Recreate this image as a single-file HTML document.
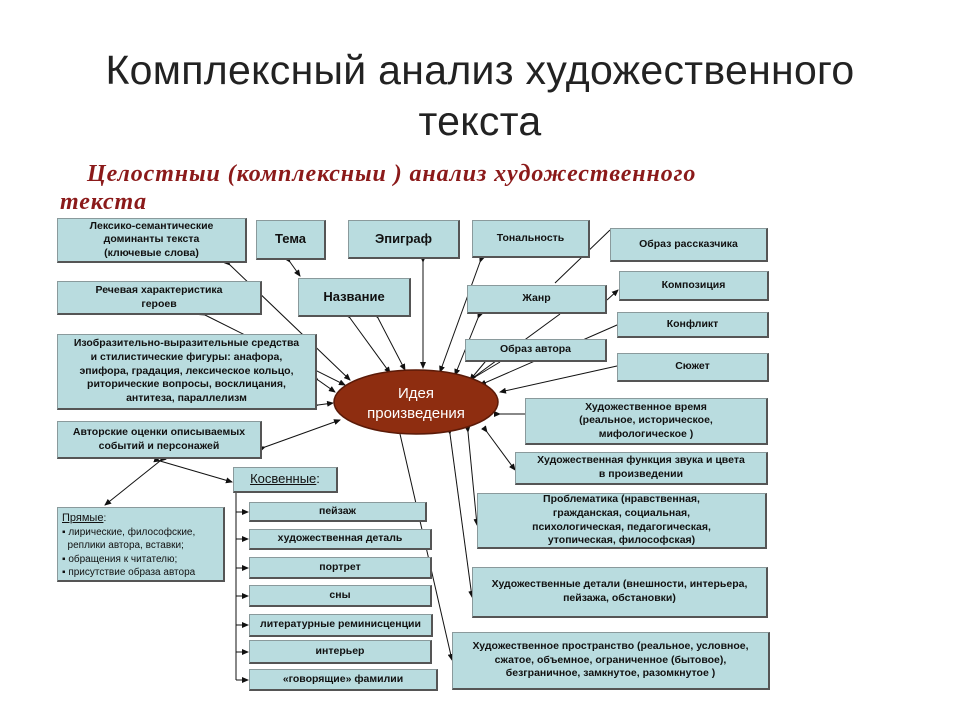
<!DOCTYPE html>
<html><head><meta charset="utf-8"><style>
body{margin:0;width:960px;height:720px;background:#fff;position:relative;overflow:hidden;font-family:"Liberation Sans",sans-serif}
.t{position:absolute;left:0;width:960px;text-align:center;font-size:41px;color:#222;letter-spacing:0.3px}
.b{position:absolute;box-sizing:border-box;background:#b9dcdf;border:1px solid #8a9a9c;border-right:2px solid #555;border-bottom:2px solid #555;font-size:10.5px;color:#111;display:flex;align-items:center;justify-content:center;text-align:center;line-height:1.3;font-weight:bold}
.big{font-size:13px}
.sub{position:absolute;font:italic bold 24px 'Liberation Serif',serif;color:#8b1a1a;letter-spacing:0.9px}
svg{position:absolute;left:0;top:0}
</style></head><body>
<div class="t" style="top:47px">Комплексный анализ художественного</div>
<div class="t" style="top:98px">текста</div>
<div class="sub" style="left:87px;top:161px">Целостныи (комплексныи ) анализ художественного</div>
<div class="sub" style="left:60px;top:189px">текста</div>
<svg width="960" height="720">
<defs><marker id="a" markerWidth="7" markerHeight="6" refX="6" refY="3" orient="auto"><path d="M0,0L7,3L0,6z" fill="#111"/></marker></defs>
<g stroke="#111" stroke-width="1" marker-end="url(#a)" marker-start="url(#a)" fill="none">
<line x1="230" y1="265" x2="350" y2="380"/>
<line x1="290" y1="262" x2="300" y2="276"/>
<line x1="350" y1="318" x2="390" y2="373"/>
<line x1="378" y1="318" x2="405" y2="370"/>
<line x1="423" y1="262" x2="423" y2="368"/>
<line x1="205" y1="315" x2="345" y2="385"/>
<line x1="318" y1="380" x2="335" y2="392"/>
<line x1="318" y1="405" x2="333" y2="403"/>
<line x1="265" y1="447" x2="340" y2="420"/>
<line x1="480" y1="262" x2="440" y2="372"/>
<line x1="478" y1="318" x2="455" y2="375"/>
<line x1="485" y1="362" x2="470" y2="380"/>
<line x1="617" y1="325" x2="480" y2="385"/>
<line x1="617" y1="366" x2="500" y2="392"/>
<line x1="500" y1="414" x2="537" y2="414"/>
<line x1="487" y1="432" x2="515" y2="470"/>
<line x1="468" y1="432" x2="477" y2="525"/>
<line x1="450" y1="434" x2="472" y2="597"/>
<line x1="400" y1="434" x2="452" y2="660"/>
<line x1="160" y1="461" x2="105" y2="505"/>
<line x1="160" y1="461" x2="232" y2="482"/>
</g>
<g stroke="#111" stroke-width="1" fill="none">
<line x1="555" y1="283" x2="610" y2="230"/>
<line x1="470" y1="380" x2="560" y2="314"/>
<line x1="470" y1="380" x2="500" y2="362"/>
<line x1="236" y1="493" x2="236" y2="680"/>
</g>
<g stroke="#111" marker-end="url(#a)">
<line x1="236" y1="512" x2="248" y2="512"/><line x1="236" y1="539" x2="248" y2="539"/>
<line x1="236" y1="568" x2="248" y2="568"/><line x1="236" y1="596" x2="248" y2="596"/>
<line x1="236" y1="625" x2="248" y2="625"/><line x1="236" y1="652" x2="248" y2="652"/>
<line x1="236" y1="680" x2="248" y2="680"/><line x1="607" y1="300" x2="618" y2="290"/>
</g>
<ellipse cx="416" cy="402" rx="82" ry="32" fill="#8e2d10" stroke="#5a1a08" stroke-width="1.5"/>
<text x="416" y="398" text-anchor="middle" font-size="15" fill="#fff" font-family="Liberation Sans">Идея</text>
<text x="416" y="418" text-anchor="middle" font-size="15" fill="#fff" font-family="Liberation Sans">произведения</text>
</svg>
<div class="b" style="left:57px;top:218px;width:190px;height:45px">Лексико-семантические<br>доминанты текста<br>(ключевые слова)</div>
<div class="b big" style="left:256px;top:220px;width:70px;height:40px">Тема</div>
<div class="b big" style="left:348px;top:220px;width:112px;height:39px">Эпиграф</div>
<div class="b" style="left:472px;top:220px;width:118px;height:38px">Тональность</div>
<div class="b" style="left:610px;top:228px;width:158px;height:34px">Образ рассказчика</div>
<div class="b" style="left:57px;top:281px;width:205px;height:34px">Речевая характеристика<br>героев</div>
<div class="b big" style="left:298px;top:278px;width:113px;height:39px">Название</div>
<div class="b" style="left:467px;top:285px;width:140px;height:29px">Жанр</div>
<div class="b" style="left:619px;top:271px;width:150px;height:30px">Композиция</div>
<div class="b" style="left:617px;top:312px;width:152px;height:26px">Конфликт</div>
<div class="b" style="left:465px;top:339px;width:142px;height:23px">Образ автора</div>
<div class="b" style="left:617px;top:353px;width:152px;height:29px">Сюжет</div>
<div class="b" style="left:57px;top:334px;width:260px;height:76px">Изобразительно-выразительные средства<br>и стилистические фигуры: анафора,<br>эпифора, градация, лексическое кольцо,<br>риторические вопросы, восклицания,<br>антитеза, параллелизм</div>
<div class="b" style="left:525px;top:398px;width:243px;height:47px">Художественное время<br>(реальное, историческое,<br>мифологическое )</div>
<div class="b" style="left:57px;top:421px;width:205px;height:38px">Авторские оценки описываемых<br>событий и персонажей</div>
<div class="b" style="left:515px;top:452px;width:253px;height:33px">Художественная функция звука и цвета<br>в произведении</div>
<div class="b big" style="left:233px;top:467px;width:105px;height:26px;font-weight:normal"><u>Косвенные</u>:</div>
<div class="b" style="left:57px;top:507px;width:168px;height:75px;display:block;text-align:left;padding:3px 4px;font-weight:normal;font-size:10px;line-height:1.35"><u style="font-size:11px">Прямые</u>:<br>▪ лирические, философские,<br>&nbsp;&nbsp;реплики автора, вставки;<br>▪ обращения к читателю;<br>▪ присутствие образа автора</div>
<div class="b" style="left:477px;top:493px;width:290px;height:56px">Проблематика (нравственная,<br>гражданская, социальная,<br>психологическая, педагогическая,<br>утопическая, философская)</div>
<div class="b" style="left:249px;top:502px;width:178px;height:20px">пейзаж</div>
<div class="b" style="left:249px;top:529px;width:183px;height:21px">художественная деталь</div>
<div class="b" style="left:249px;top:557px;width:183px;height:22px">портрет</div>
<div class="b" style="left:249px;top:585px;width:183px;height:22px">сны</div>
<div class="b" style="left:249px;top:614px;width:184px;height:23px">литературные реминисценции</div>
<div class="b" style="left:249px;top:640px;width:183px;height:24px">интерьер</div>
<div class="b" style="left:249px;top:669px;width:189px;height:22px">«говорящие» фамилии</div>
<div class="b" style="left:472px;top:567px;width:296px;height:51px">Художественные детали (внешности, интерьера,<br>пейзажа, обстановки)</div>
<div class="b" style="left:452px;top:632px;width:318px;height:58px">Художественное пространство (реальное, условное,<br>сжатое, объемное, ограниченное (бытовое),<br>безграничное, замкнутое, разомкнутое )</div>
</body></html>
